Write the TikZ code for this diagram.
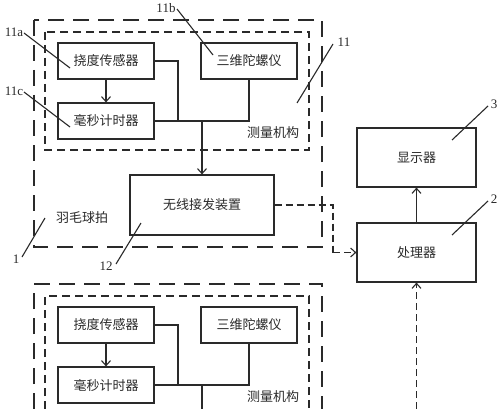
\documentclass[tikz,border=0pt]{standalone}
\usepackage{fontspec}
\setmainfont{Liberation Serif}
\newfontfamily\cjk{Noto Sans CJK SC}
\usetikzlibrary{arrows.meta,calc}
\definecolor{ink}{HTML}{2A2A2A}
\begin{document}
\begin{tikzpicture}[x=1pt,y=-1pt,
  every node/.style={text=ink},
  line width=1.2pt,
  box/.style={draw=ink,line width=1.2pt,inner sep=0pt,font=\cjk\fontsize{13}{15}\selectfont},
  cjktext/.style={inner sep=0pt,font=\cjk\fontsize{13}{15}\selectfont},
  lab/.style={inner sep=0pt,font=\fontsize{13}{15}\selectfont},
  outerdash/.style={draw=ink,line width=1.3pt,dash pattern=on 16pt off 9pt},
  innerdash/.style={draw=ink,line width=1.1pt,dash pattern=on 8pt off 5pt},
  condash/.style={draw=ink,line width=1.1pt,dash pattern=on 7pt off 4pt},
  wire/.style={draw=ink,line width=1.1pt},
  arr/.style={-{Straight Barb[length=5pt,width=9pt,line width=1.1pt]}},
  leader/.style={draw=ink,line width=1.1pt}]
\useasboundingbox (0,0) rectangle (500,409);
\fill[white] (0,0) rectangle (500,409);

% ---------- top section ----------
\draw[outerdash] (34,20) rectangle (322,247);
\draw[innerdash] (45,32) rectangle (309,150);
\node[box,minimum width=96pt,minimum height=36pt] (naoA) at (106,61) {挠度传感器};
\node[box,minimum width=96pt,minimum height=36pt] (hmA) at (106,121) {毫秒计时器};
\node[box,minimum width=96pt,minimum height=36pt] (swA) at (249,61) {三维陀螺仪};
\node[cjktext] (clA) at (273,133) {测量机构};
\coordinate (busA) at (202,121);
\coordinate (jA) at (178,121);
\draw[wire,arr] (naoA.south) -- (hmA.north);
\draw[wire] (naoA.east) -| (jA);
\draw[wire] (hmA.east) -| (swA.south);
\node[box,minimum width=144pt,minimum height=60pt] (wx) at (202,205) {无线接发装置};
\draw[wire,arr] (busA) -- (wx.north);
\node[cjktext] (racket) at (82,218) {羽毛球拍};

% ---------- bottom section ----------
\draw[outerdash] (34,409) -- (34,284) -- (322,284) -- (322,409);
\draw[innerdash] (45,409) -- (45,296) -- (309,296) -- (309,409);
\node[box,minimum width=96pt,minimum height=36pt] (naoB) at (106,325) {挠度传感器};
\node[box,minimum width=96pt,minimum height=36pt] (hmB) at (106,385) {毫秒计时器};
\node[box,minimum width=96pt,minimum height=36pt] (swB) at (249,325) {三维陀螺仪};
\node[cjktext] (clB) at (273,397) {测量机构};
\coordinate (busB) at (202,385);
\coordinate (jB) at (178,385);
\coordinate (endB) at (202,409);
\draw[wire,arr] (naoB.south) -- (hmB.north);
\draw[wire] (naoB.east) -| (jB);
\draw[wire] (hmB.east) -| (swB.south);
\draw[wire] (busB) -- (endB);

% ---------- right side ----------
\node[box,minimum width=119pt,minimum height=59pt] (disp) at (416.5,157.5) {显示器};
\node[box,minimum width=119pt,minimum height=59pt] (cpu) at (416.5,252.5) {处理器};
\coordinate (bend) at (333,252.5);
\coordinate (bot) at (416.5,409);
\draw[wire,arr] (cpu.north) -- (disp.south);
\draw[condash] (wx.east) -| (bend);
\draw[condash,arr] (bend) -- (cpu.west);
\draw[condash,arr] (bot) -- (cpu.south);

% ---------- labels ----------
\node[lab] (l11a) at (14,32) {11a};
\node[lab] (l11c) at (14,91) {11c};
\node[lab] (l11b) at (166,8) {11b};
\node[lab] (l11) at (344,42) {11};
\node[lab] (l1) at (16,259) {1};
\node[lab] (l12) at (106,266) {12};
\node[lab] (l3) at (494,104) {3};
\node[lab] (l2) at (494,199) {2};
\coordinate (p11a) at (70,68);
\coordinate (p11c) at (70,127);
\coordinate (p11b) at (213,55);
\coordinate (p11) at (297,103);
\coordinate (p1) at (45,218);
\coordinate (p12) at (141,223);
\coordinate (p3) at (452,140);
\coordinate (p2) at (452,235);
\draw[leader] (24,33) -- (p11a);
\draw[leader] (24,92) -- (p11c);
\draw[leader] (177,9) -- (p11b);
\draw[leader] (333,44) -- (p11);
\draw[leader] (22,257) -- (p1);
\draw[leader] (116,264) -- (p12);
\draw[leader] (488,106) -- (p3);
\draw[leader] (488,201) -- (p2);
\end{tikzpicture}
\end{document}
